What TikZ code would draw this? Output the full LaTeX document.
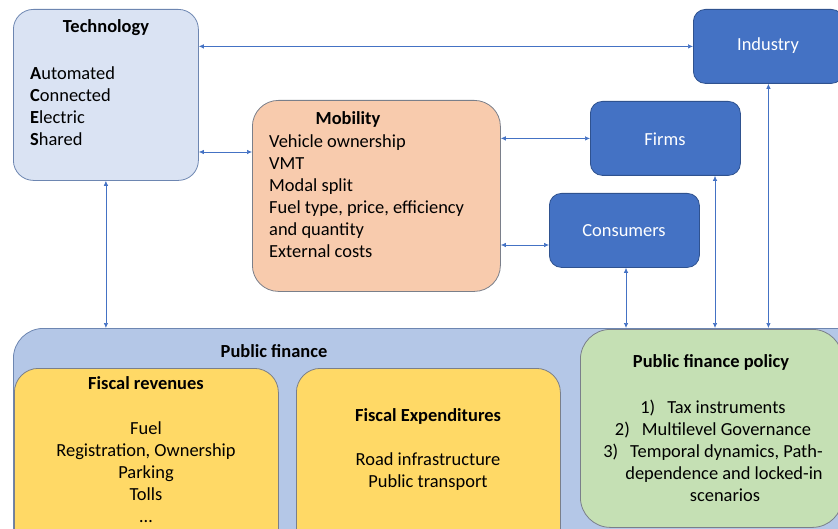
\documentclass[tikz,border=0pt]{standalone}
\usepackage{fontspec}
\setmainfont{Carlito}
\usetikzlibrary{arrows.meta}
\definecolor{techfill}{HTML}{DAE3F3}
\definecolor{mobfill}{HTML}{F8CBAD}
\definecolor{actfill}{HTML}{4472C4}
\definecolor{actline}{HTML}{2F528F}
\definecolor{pubfill}{HTML}{B4C7E7}
\definecolor{revfill}{HTML}{FFD966}
\definecolor{polfill}{HTML}{C5E0B4}
\definecolor{edge}{HTML}{7A7F8A}
\definecolor{linkcol}{HTML}{4472C4}
\tikzset{
  box/.style    = {draw=edge, line width=0.8bp, anchor=north west, inner sep=0pt},
  actor/.style  = {box, draw=actline, fill=actfill, rounded corners=12bp, text=white},
  txt/.style    = {inner sep=0pt, font=\fontsize{18.5}{22}\selectfont},
  head/.style   = {txt, font=\fontsize{18.5}{22}\selectfont\bfseries},
  link/.style   = {{Latex[length=5bp,width=4.5bp]}-{Latex[length=5bp,width=4.5bp]}, draw=linkcol, line width=0.7bp}
}
\begin{document}
\begin{tikzpicture}[x=1bp, y=-1bp]
    \useasboundingbox (0,0) rectangle (838,529);
    \clip (0,0) rectangle (838,529);
    % top row
    \node[box, fill=techfill, draw=actline!70, rounded corners=20bp, minimum width=185bp, minimum height=171bp] (tech) at ( 13,  9) {};
    \node[box, fill=mobfill,  rounded corners=26bp, minimum width=248bp, minimum height=191bp] (mob)  at (252,100) {};
    \node[actor, minimum width=150bp, minimum height=74bp] (ind)   at (693,  9) {};
    \node[actor, minimum width=150bp, minimum height=74bp] (firms) at (590,101) {};
    \node[actor, minimum width=150bp, minimum height=74bp] (cons)  at (549,193) {};
    % public finance block
    \node[box, fill=pubfill, draw=actline!70, rounded corners=30bp, minimum width=860bp, minimum height=240bp] (pub) at ( 13,328) {};
    \node[box, fill=revfill, rounded corners=24bp, minimum width=264bp, minimum height=190bp] (rev) at ( 14,368) {};
    \node[box, fill=revfill, rounded corners=24bp, minimum width=264bp, minimum height=190bp] (exp) at (296,368) {};
    \node[box, fill=polfill, rounded corners=30bp, minimum width=262bp, minimum height=198bp] (pol) at (580,329) {};
    % texts
    \node[head] (techT) at (106, 28) {Technology};
    \node[txt, anchor=west, align=left] (techL) at (30,106) {\textbf{A}utomated\\ \textbf{C}onnected\\ \textbf{E}lectric\\ \textbf{S}hared};
    \node[head] (mobT) at (348,119) {Mobility};
    \node[txt, anchor=west, align=left] (mobL) at (269,196) {Vehicle ownership\\ VMT\\ Modal split\\ Fuel type, price, efficiency\\ and quantity\\ External costs};
    \node[txt, text=white] (indT)   at (768, 46) {Industry};
    \node[txt, text=white] (firmsT) at (665,139) {Firms};
    \node[txt, text=white] (consT)  at (624,231) {Consumers};
    \node[head] (pubT) at (274,351) {Public finance};
    \node[head] (revT) at (146,383) {Fiscal revenues};
    \node[txt, align=center] (revL) at (146,472) {Fuel\\ Registration, Ownership\\ Parking\\ Tolls\\ \dots};
    \node[head] (expT) at (428,416) {Fiscal Expenditures};
    \node[txt, align=center] (expL) at (428,472) {Road infrastructure\\ Public transport};
    \node[head] (polT) at (711,362) {Public finance policy};
    \node[txt, align=center] (polL) at (713,451) {1)\hspace{12bp}Tax instruments\\ 2)\hspace{12bp}Multilevel Governance\\ 3)\hspace{12bp}Temporal dynamics, Path-\\ \hspace{22bp}dependence and locked-in\\ \hspace{24bp}scenarios};
    % connections
    \draw[link] (tech.east |- ind.west)  -- (ind.west);
    \draw[link] (tech.east |- 0,152)     -- (mob.west |- 0,152);
    \draw[link] (mob.east |- firms.west) -- (firms.west);
    \draw[link] (mob.east |- 0,245)      -- (cons.west |- 0,245);
    \draw[link] (tech.south)             -- (tech.south |- pub.north);
    \draw[link] (cons.south -| 626,0)    -- (626,0 |- pub.north);
    \draw[link] (firms.south -| 715,0)   -- (715,0 |- pub.north);
    \draw[link] (ind.south)              -- (ind.south |- pub.north);
\end{tikzpicture}
\end{document}
